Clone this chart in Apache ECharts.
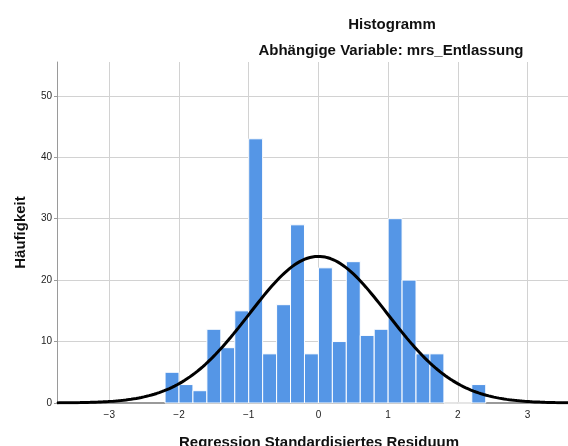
<!DOCTYPE html>
<html>
<head>
<meta charset="utf-8">
<script src="https://cdn.jsdelivr.net/npm/echarts@6/dist/echarts.min.js"></script>
<style>
  html, body { margin: 0; padding: 0; background: #ffffff; }
  #chart { width: 568px; height: 446px; }
</style>
</head>
<body>
<div id="chart"></div>
<script>
// Histogram bins of the standardized regression residuals (bin width 0.2)
const binLower = [-2.2, -2.0, -1.8, -1.6, -1.4, -1.2, -1.0, -0.8, -0.6, -0.4, -0.2,
                   0.0,  0.2,  0.4,  0.6,  0.8,  1.0,  1.2,  1.4,  1.6,  1.8,  2.0,  2.2];
const binUpper = [-2.0, -1.8, -1.6, -1.4, -1.2, -1.0, -0.8, -0.6, -0.4, -0.2,  0.0,
                   0.2,  0.4,  0.6,  0.8,  1.0,  1.2,  1.4,  1.6,  1.8,  2.0,  2.2,  2.4];
const frequencies = [5, 3, 2, 12, 9, 15, 43, 8, 16, 29, 8,
                     22, 10, 23, 11, 12, 30, 20, 8, 8, 0, 0, 3];

// Axis tick values
const xTicks = [-3, -2, -1, 0, 1, 2, 3];
const yTicks = [0, 10, 20, 30, 40, 50];

// Parameters of the overlaid normal curve
const residualMean = 0;
const residualSd = 0.993;
const binWidth = 0.2;

const xMin = -3.75, xMax = 3.58;
const yMax = 55.5;

const totalCount = frequencies.reduce((a, b) => a + b, 0);
const histData = binLower.map((lo, i) => [lo, binUpper[i], frequencies[i]]);

// Expected frequency per bin under the normal distribution
const curveData = [];
for (let k = 0; k <= 400; k++) {
  const x = xMin + (xMax - xMin) * k / 400;
  const z = (x - residualMean) / residualSd;
  const y = totalCount * binWidth / (residualSd * Math.sqrt(2 * Math.PI)) * Math.exp(-0.5 * z * z);
  curveData.push([x, y]);
}

const fontFamily = '"Liberation Sans", Arial, sans-serif';
const chart = echarts.init(document.getElementById('chart'), null, { renderer: 'canvas' });

chart.setOption({
  animation: false,
  backgroundColor: '#ffffff',
  title: [
    {
      text: 'Histogramm',
      left: 387, top: 12, textAlign: 'center',
      textStyle: { fontFamily, fontSize: 15, fontWeight: 'bold', color: '#111' }
    },
    {
      text: 'Abhängige Variable: mrs_Entlassung',
      left: 386, top: 38, textAlign: 'center',
      textStyle: { fontFamily, fontSize: 15, fontWeight: 'bold', color: '#111' }
    }
  ],
  grid: { left: 57, right: 0, top: 62, bottom: 43, containLabel: false, outerBoundsMode: 'none' },
  xAxis: {
    type: 'value',
    min: xMin, max: xMax,
    name: 'Regression Standardisiertes Residuum',
    nameLocation: 'middle',
    nameGap: 32,
    nameTextStyle: { fontFamily, fontSize: 15, fontWeight: 'bold', color: '#111', padding: [0, 0, 0, 13] },
    axisLine: { show: true, onZero: false, lineStyle: { color: '#9a9a9a', width: 2 } },
    axisTick: { show: false, customValues: xTicks },
    axisLabel: {
      customValues: xTicks, margin: 7,
      fontFamily, fontSize: 10, color: '#222',
      formatter: v => (v < 0 ? '\u2212' + Math.abs(v) : String(v))
    },
    splitLine: { show: true, lineStyle: { color: '#d2d2d2', width: 1 } }
  },
  yAxis: {
    type: 'value',
    min: 0, max: yMax,
    name: 'Häufigkeit',
    nameLocation: 'middle',
    nameGap: 29,
    nameRotate: 90,
    nameTextStyle: { fontFamily, fontSize: 15, fontWeight: 'bold', color: '#111' },
    axisLine: { show: true, onZero: false, lineStyle: { color: '#9a9a9a', width: 1 } },
    axisTick: { show: true, length: 3, customValues: yTicks, lineStyle: { color: '#9a9a9a' } },
    axisLabel: { customValues: yTicks, margin: 5, fontFamily, fontSize: 10, color: '#222' },
    splitLine: { show: true, lineStyle: { color: '#d2d2d2', width: 1 } }
  },
  series: [
    {
      type: 'custom',
      name: 'Häufigkeit',
      data: histData,
      encode: { x: [0, 1], y: 2 },
      z: 2,
      renderItem(params, api) {
        const topLeft = api.coord([api.value(0), api.value(2)]);
        const bottomRight = api.coord([api.value(1), 0]);
        return {
          type: 'rect',
          shape: {
            x: topLeft[0], y: topLeft[1],
            width: bottomRight[0] - topLeft[0],
            height: bottomRight[1] - topLeft[1]
          },
          style: { fill: '#5596e6', stroke: '#ffffff', lineWidth: 1 }
        };
      }
    },
    {
      type: 'line',
      name: 'Normal',
      data: curveData,
      showSymbol: false,
      smooth: false,
      z: 5,
      lineStyle: { color: '#000000', width: 3 }
    }
  ]
});
</script>
</body>
</html>
